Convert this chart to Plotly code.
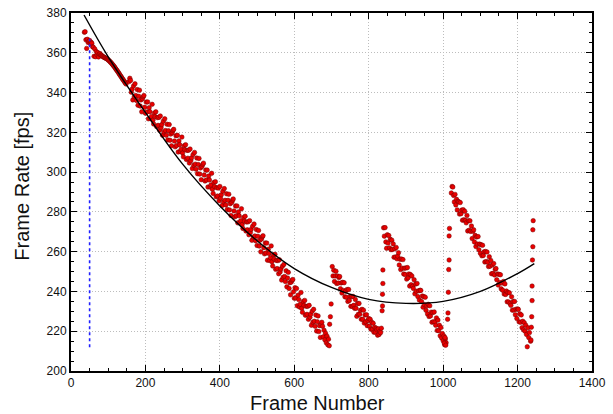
import plotly.graph_objects as go

# ---- measured frame rates (fps), grouped by run segment ----
# Segment A: warm-up, frames 36..150 (every 2nd frame)
seg_a_start, seg_a_step = 36, 2
seg_a_fps = [
    370.3, 370.6, 366.5, 362.2, 366.8, 365.2, 365.8, 366.2, 364.6, 365.3,
    364.8, 363.0, 362.8, 358.2, 361.9, 358.0, 360.6, 359.0, 360.1, 357.9,
    359.3, 359.6, 358.9, 358.7, 358.3, 358.1, 357.8, 357.6, 357.4, 357.2,
    357.0, 356.8, 356.4, 356.1, 355.7, 355.3, 355.0, 354.5, 354.0, 353.6,
    353.1, 352.6, 352.0, 351.5, 351.0, 350.4, 349.9, 349.3, 348.7, 348.2,
    347.6, 347.0, 346.5, 345.9, 345.4, 344.8, 344.3,
]

# Segment B: frames 156..694
seg_b_start, seg_b_step = 156, 2
seg_b_fps = [
    345.5, 347.2, 346.1, 340.2, 341.7, 336.3, 343.3, 337.9, 344.4, 338.5,
    336.0, 341.5, 333.6, 338.1, 341.2, 333.2, 336.3, 330.3, 336.9, 337.9,
    338.5, 332.6, 329.6, 335.2, 330.2, 335.3, 326.8, 332.4, 330.4, 327.0,
    328.0, 334.1, 326.1, 324.2, 329.7, 327.8, 330.3, 322.9, 327.4, 323.5,
    327.5, 321.1, 328.2, 322.3, 323.9, 318.5, 325.6, 320.2, 326.8, 320.9,
    318.5, 324.1, 316.2, 320.8, 323.9, 316.0, 319.1, 313.2, 319.8, 320.9,
    321.5, 315.6, 312.7, 318.3, 313.4, 318.5, 310.1, 315.7, 313.8, 310.4,
    311.5, 317.6, 309.6, 307.7, 313.2, 311.3, 313.8, 306.4, 310.9, 307.0,
    311.0, 304.6, 311.6, 305.7, 307.2, 301.8, 308.8, 303.4, 309.9, 304.0,
    301.5, 307.1, 299.2, 303.8, 306.9, 299.0, 302.1, 296.2, 302.8, 303.9,
    304.5, 298.5, 295.5, 301.0, 296.0, 301.0, 292.5, 298.0, 296.0, 292.5,
    293.5, 299.4, 291.4, 289.3, 294.8, 292.7, 295.2, 287.6, 292.1, 288.0,
    292.0, 285.6, 292.8, 286.9, 288.6, 283.2, 290.4, 285.0, 291.7, 285.8,
    283.5, 289.1, 281.2, 285.8, 288.9, 281.0, 284.1, 278.2, 284.8, 285.9,
    286.5, 280.5, 277.5, 283.0, 278.0, 283.0, 274.5, 280.0, 278.0, 274.5,
    275.5, 281.6, 273.6, 271.7, 277.2, 275.3, 277.8, 270.4, 274.9, 271.0,
    275.0, 268.5, 275.6, 269.6, 271.2, 265.7, 272.8, 267.3, 273.9, 267.9,
    265.5, 271.1, 263.1, 267.7, 270.7, 262.8, 265.8, 259.9, 266.4, 267.5,
    268.0, 262.0, 258.9, 264.4, 259.3, 264.3, 255.7, 261.2, 259.1, 255.6,
    257.0, 262.9, 254.9, 252.8, 258.3, 256.2, 258.7, 251.1, 255.6, 251.5,
    255.5, 248.9, 255.9, 249.8, 251.3, 245.7, 252.7, 247.1, 253.6, 247.5,
    245.0, 250.4, 242.3, 246.7, 249.6, 241.5, 244.4, 238.3, 244.7, 245.6,
    246.0, 239.8, 236.6, 241.9, 236.7, 241.5, 232.8, 238.1, 235.9, 232.2,
    233.5, 239.5, 231.5, 229.5, 235.0, 233.0, 235.5, 228.0, 232.5, 228.5,
    232.5, 226.0, 233.0, 227.0, 228.5, 223.0, 230.0, 224.5, 231.0, 225.0,
    222.5, 228.1, 220.1, 224.7, 227.7, 219.8, 222.8, 216.9, 223.4, 224.5,
    222.5, 217.2, 220.5, 215.7, 219.0, 214.2, 217.5, 213.2, 216.0, 212.7,
]

# Segment C: frames 702..834
seg_c_start, seg_c_step = 702, 2
seg_c_fps = [
    252.5, 247.8, 250.7, 245.0, 247.8, 250.2, 244.0, 247.8, 244.2, 247.0,
    247.5, 241.4, 244.3, 239.2, 244.6, 240.5, 244.4, 237.3, 240.2, 237.1,
    241.0, 235.0, 241.0, 235.5, 237.5, 232.5, 237.5, 232.5, 237.5, 233.0,
    231.5, 236.0, 231.5, 227.5, 234.0, 228.5, 234.0, 228.5, 230.5, 226.0,
    231.0, 226.0, 230.6, 224.1, 228.2, 224.7, 228.3, 222.8, 225.4, 226.4,
    222.5, 226.0, 221.0, 224.5, 221.0, 224.0, 219.5, 222.0, 219.5, 221.5,
    220.8, 218.0, 221.2, 218.4, 220.0, 219.3, 221.5,
]

# Segment D: frames 840..1008
seg_d_start, seg_d_step = 840, 2
seg_d_fps = [
    272.0, 267.8, 272.1, 264.9, 261.7, 268.5, 264.3, 268.1, 261.9, 266.2,
    261.0, 265.8, 261.1, 263.9, 257.2, 261.5, 257.3, 262.1, 256.4, 257.7,
    259.5, 253.3, 256.2, 251.0, 256.3, 251.7, 256.0, 248.8, 251.7, 248.5,
    251.8, 246.2, 252.0, 246.9, 248.8, 242.7, 248.5, 243.4, 247.8, 242.6,
    241.5, 245.9, 238.8, 243.7, 240.1, 244.0, 237.4, 240.3, 235.7, 240.6,
    240.5, 234.9, 237.7, 232.1, 237.4, 233.3, 237.1, 230.5, 232.8, 228.7,
    233.5, 227.4, 232.8, 227.7, 229.6, 224.5, 229.4, 224.8, 229.7, 224.6,
    223.0, 226.7, 220.4, 225.6, 220.3, 223.0, 217.7, 221.9, 216.6, 218.8,
    215.2, 217.6, 213.2, 216.1, 214.2,
]

# Segment E: frames 1022..1232
seg_e_start, seg_e_step = 1022, 2
seg_e_fps = [
    289.5, 292.8, 292.5, 288.3, 285.0, 288.8, 283.5, 286.3, 281.0, 285.3,
    285.0, 278.9, 284.7, 279.1, 280.9, 275.8, 281.1, 276.0, 280.3, 275.7,
    274.5, 278.2, 270.4, 275.6, 270.8, 275.5, 270.2, 272.9, 266.6, 270.3,
    271.0, 264.9, 268.2, 262.6, 267.4, 263.8, 267.6, 261.0, 263.8, 259.2,
    263.5, 257.9, 263.2, 258.1, 259.9, 254.8, 260.1, 255.0, 259.8, 254.7,
    252.5, 257.4, 252.7, 255.6, 248.9, 253.3, 249.1, 254.0, 248.3, 251.2,
    251.5, 245.9, 248.8, 243.2, 248.6, 244.5, 248.4, 241.3, 244.2, 240.6,
    245.0, 238.7, 243.8, 238.5, 240.2, 234.8, 239.5, 234.7, 239.3, 234.0,
    233.0, 237.3, 230.6, 234.9, 230.7, 235.0, 228.3, 231.1, 226.4, 231.2,
    231.0, 224.7, 228.8, 224.5, 228.2, 221.8, 225.0, 220.7, 224.3, 220.0,
    223.0, 218.4, 212.2, 221.7, 216.8, 219.3,
]

# Frames captured while the rate was recovering between segments
jump_frames = [695, 697, 699,
               836, 837, 837, 838, 838,
               1003, 1005, 1007,
               1012, 1013, 1014, 1015, 1016, 1016, 1017,
               1235, 1236, 1237, 1238, 1239, 1239, 1240, 1241, 1241, 1242]
jump_fps = [223.5, 227.3, 233.7,
            230.3, 232.7, 238.6, 244.0, 250.8,
            214.0, 216.8, 213.0,
            226.0, 229.2, 239.6, 251.0, 255.8, 267.9, 271.7,
            215.0, 215.6, 222.0, 227.3, 235.4, 242.7, 255.8, 262.5, 271.0, 275.6]

# Least-squares trend of the frame rate, sampled along the run
trend_frames = [35, 100, 200, 300, 400, 500, 600, 700, 800, 900, 1000, 1100, 1200, 1245]
trend_fps = [379.0, 358.0, 330.0, 304.0, 283.0, 265.5, 251.5, 242.0, 236.0, 234.0,
             235.0, 240.0, 249.0, 254.0]

# Marker for the frame where warm-up ends
marker_frame = 50
marker_span = [212, 367]

x_title = "Frame Number"
y_title = "Frame Rate [fps]"


def frames_for(start, step, values):
    return [start + i * step for i in range(len(values))]


frames, fps = [], []
for start, step, vals in [(seg_a_start, seg_a_step, seg_a_fps),
                          (seg_b_start, seg_b_step, seg_b_fps),
                          (seg_c_start, seg_c_step, seg_c_fps),
                          (seg_d_start, seg_d_step, seg_d_fps),
                          (seg_e_start, seg_e_step, seg_e_fps)]:
    frames += frames_for(start, step, vals)
    fps += vals
frames += jump_frames
fps += jump_fps

fig = go.Figure()
fig.add_trace(go.Scatter(
    x=frames, y=fps, mode="markers",
    marker=dict(size=4.5, color="#ea0000", line=dict(color="#700000", width=0.5)),
    showlegend=False,
))
fig.add_trace(go.Scatter(
    x=trend_frames, y=trend_fps, mode="lines",
    line=dict(color="black", width=1.4, shape="spline", smoothing=1.0),
    showlegend=False,
))
fig.add_trace(go.Scatter(
    x=[marker_frame, marker_frame], y=marker_span, mode="lines",
    line=dict(color="#1f1fff", width=1.6, dash="3px,3px"),
    showlegend=False,
))

font_family = "Liberation Sans, Arial, Helvetica, sans-serif"
axis_common = dict(
    showline=True, linecolor="black", linewidth=2, mirror="allticks",
    ticks="inside", ticklen=6, tickwidth=1, tickcolor="black",
    showgrid=True, gridcolor="#bdbdbd", griddash="1px,2px", gridwidth=1,
    zeroline=False, automargin=False,
    tickfont=dict(family=font_family, size=12, color="#111"),
)

fig.update_xaxes(
    range=[0, 1400], dtick=200, tick0=0,
    minor=dict(dtick=50, ticks="inside", ticklen=3, tickcolor="black", showgrid=False),
    **axis_common,
)
fig.update_yaxes(
    range=[200, 380], dtick=20, tick0=200,
    minor=dict(dtick=5, ticks="inside", ticklen=3, tickcolor="black", showgrid=False),
    **axis_common,
)

title_font = dict(family=font_family, size=20, color="#111")
fig.add_annotation(text=x_title, xref="paper", yref="paper", x=0.474, y=-0.089,
                   xanchor="center", yanchor="middle", showarrow=False, font=title_font)
fig.add_annotation(text=y_title, xref="paper", yref="paper", x=-0.094, y=0.515,
                   xanchor="center", yanchor="middle", textangle=-90, showarrow=False,
                   font=title_font)

fig.update_layout(
    width=613, height=414,
    margin=dict(l=71, r=21, t=13, b=43),
    paper_bgcolor="white", plot_bgcolor="white",
)

fig.write_html("out.html")
